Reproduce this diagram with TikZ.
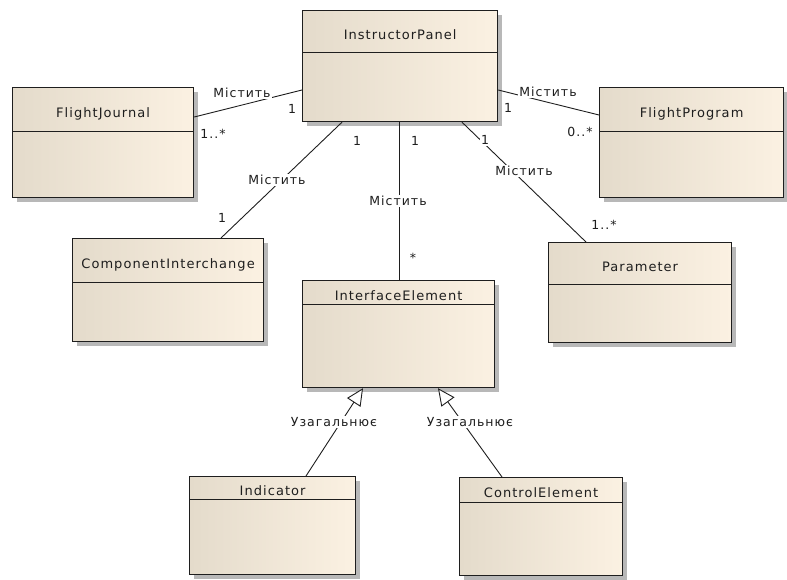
\documentclass[tikz,border=0pt]{standalone}
\usepackage{fontspec}
\setmainfont{DejaVu Sans}[LetterSpace=8]
\usetikzlibrary{arrows.meta,calc,shadows}
\definecolor{clsL}{RGB}{228,219,203}
\definecolor{clsR}{RGB}{251,241,226}
\definecolor{ink}{RGB}{30,30,30}
\tikzset{
  cls/.style={draw=ink, line width=1.2pt, anchor=north west, inner sep=0pt,
    left color=clsL, right color=clsR,
    drop shadow={shadow xshift=4pt, shadow yshift=-4pt, fill=black!28, opacity=1}},
  clsline/.style={draw=ink, line width=1pt},
  ttl/.style={anchor=base, inner sep=0pt, text=ink, font=\fontsize{13}{15}\selectfont},
  lbl/.style={fill=white, inner sep=1pt, text=ink, font=\fontsize{12.5}{14}\selectfont},
  conn/.style={draw=ink, line width=0.9pt},
  gen/.style={conn, -{Triangle[length=17pt, width=16pt, fill=white, line width=0.9pt]}},
}
\newcommand\umlcls[7]{%
  \node[cls, minimum width=#4pt, minimum height=#5pt] (#1) at (#2,#3) {};
  \draw[clsline] ($(#1.north west)+(0,#6)$) -- ($(#1.north east)+(0,#6)$);
  \node[ttl] (#1-t) at ($(#1.north)+(0,#6/2+8)$) {#7};
}
\begin{document}
\begin{tikzpicture}[x=1pt,y=-1pt]
\useasboundingbox (0,0) rectangle (787,579);
\umlcls{ip}{302}{10}{195}{111}{42}{InstructorPanel}
\umlcls{fj}{12}{87}{181}{110}{44}{FlightJournal}
\umlcls{fp}{599}{87}{184}{110}{44}{FlightProgram}
\umlcls{ci}{72}{238}{191}{103}{44}{ComponentInterchange}
\umlcls{ie}{302}{280}{192}{107}{24}{InterfaceElement}
\umlcls{pa}{548}{242}{183}{100}{42}{Parameter}
\umlcls{in}{189}{476}{166}{98}{23}{Indicator}
\umlcls{ce}{459}{477}{163}{98}{25}{ControlElement}

% associations
\draw[conn] ($(ip.north west)+(0,80)$) -- ($(fj.north east)+(0,30)$);
\draw[conn] ($(ip.north east)+(0,80)$) -- ($(fp.north west)+(0,28)$);
\draw[conn] ($(ip.south west)+(40,0)$) -- ($(ci.north west)+(149,0)$);
\draw[conn] ($(ip.south west)+(97,0)$) -- ($(ie.north west)+(97,0)$);
\draw[conn] ($(ip.south west)+(160,0)$) -- ($(pa.north west)+(38,0)$);

% generalizations
\draw[gen] ($(in.north west)+(117,0)$) -- ($(ie.south west)+(61,0)$);
\draw[gen] ($(ce.north west)+(43,0)$) -- ($(ie.south west)+(136,0)$);

% labels
\node[lbl] (l1) at (242,93) {Містить};
\node[lbl] (m1a) at (292,109) {1};
\node[lbl] (m1b) at (213,134) {1..*};
\node[lbl] (l2) at (548,92) {Містить};
\node[lbl] (m2a) at (508,108) {1};
\node[lbl] (m2b) at (580,132) {0..*};
\node[lbl] (l3) at (277,180) {Містить};
\node[lbl] (m3a) at (357,141) {1};
\node[lbl] (m3b) at (222,218) {1};
\node[lbl] (l4) at (398,201) {Містить};
\node[lbl] (m4a) at (415,141) {1};
\node[lbl] (m4b) at (413,258) {*};
\node[lbl] (l5) at (524,171) {Містить};
\node[lbl] (m5a) at (485,140) {1};
\node[lbl] (m5b) at (604,225) {1..*};
\node[lbl] (g1) at (334,422) {Узагальнює};
\node[lbl] (g2) at (470,422) {Узагальнює};
\end{tikzpicture}
\end{document}
